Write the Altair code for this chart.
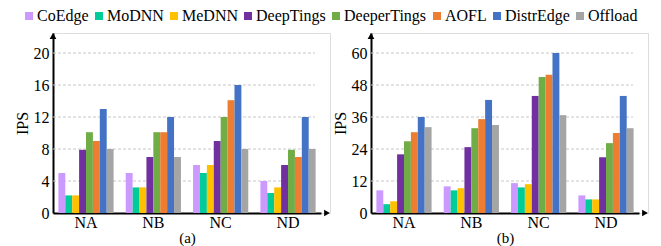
import altair as alt
import pandas as pd

groups = ["NA", "NB", "NC", "ND"]
methods = ["CoEdge", "MoDNN", "MeDNN", "DeepTings", "DeeperTings", "AOFL", "DistrEdge", "Offload"]
colors = ["#CC99FF", "#00CC99", "#FFC000", "#7030A0", "#70AD47", "#ED7D31", "#4472C4", "#A5A5A5"]

# panel (a) values per group, in method order
a_NA = [5.0, 2.2, 2.2, 7.9, 10.1, 9.0, 13.0, 8.0]
a_NB = [5.0, 3.2, 3.2, 7.0, 10.1, 10.1, 12.0, 7.0]
a_NC = [6.0, 5.0, 6.0, 9.0, 12.0, 14.1, 16.0, 8.0]
a_ND = [4.0, 2.5, 3.2, 6.0, 7.9, 7.0, 12.0, 8.0]

# panel (b) values per group, in method order
b_NA = [8.5, 3.3, 4.4, 22.0, 26.9, 30.3, 36.0, 32.2]
b_NB = [10.0, 8.5, 9.3, 24.7, 31.8, 35.2, 42.4, 33.0]
b_NC = [11.2, 9.6, 10.8, 43.9, 51.0, 51.8, 60.0, 36.7]
b_ND = [6.6, 5.1, 5.1, 20.9, 26.2, 30.0, 43.9, 31.8]

a_ticks = [0, 4, 8, 12, 16, 20]
b_ticks = [0, 12, 24, 36, 48, 60]

FONT = "Liberation Serif"
H = 180
W = 277


def make_df(rows):
    recs = []
    for g, vals in zip(groups, rows):
        for m, v in zip(methods, vals):
            recs.append({"group": g, "method": m, "ips": v})
    return pd.DataFrame(recs)


def panel(rows, ticks, ymax, label):
    df = make_df(rows)
    yscale = alt.Scale(domain=[0, ymax], nice=False, zero=True)
    yaxis = alt.Axis(title="IPS", values=ticks, labelPadding=4, titlePadding=3)
    grid_df = pd.DataFrame({"t": [t for t in ticks if t > 0]})
    grid = alt.Chart(grid_df).mark_rule(color="#c8c8c8", strokeDash=[3, 2], strokeWidth=1).encode(
        y=alt.Y("t:Q", scale=yscale, axis=yaxis),
        x=alt.value(0),
        x2=alt.value(262),
    )
    bars = alt.Chart(df).mark_bar(size=6.9).encode(
        x=alt.X("group:N", sort=groups,
                scale=alt.Scale(range=[0, 268], paddingInner=0.18, paddingOuter=0.08),
                axis=alt.Axis(title=label, labelAngle=0, labelPadding=1,
                              titleFontSize=15, titlePadding=0)),
        xOffset=alt.XOffset("method:N", sort=methods,
                            scale=alt.Scale(paddingInner=0, paddingOuter=0)),
        y=alt.Y("ips:Q", scale=yscale, axis=yaxis),
        color=alt.Color("method:N", sort=methods,
                        scale=alt.Scale(domain=methods, range=colors),
                        legend=alt.Legend(title=None, orient="none", direction="horizontal",
                                          legendX=-32, legendY=-25, labelFont=FONT,
                                          labelFontSize=16)),
    )
    up = alt.Chart(pd.DataFrame({"a": [0]})).mark_point(
        shape="triangle-up", filled=True, color="black", size=45, opacity=1
    ).encode(x=alt.value(0), y=alt.value(3))
    right = alt.Chart(pd.DataFrame({"a": [0]})).mark_point(
        shape="triangle-right", filled=True, color="black", size=45, opacity=1
    ).encode(x=alt.value(W - 3), y=alt.value(H))
    return alt.layer(grid, bars, up, right).properties(width=W, height=H)


pa = panel([a_NA, a_NB, a_NC, a_ND], a_ticks, 22.5, "(a)")
pb = panel([b_NA, b_NB, b_NC, b_ND], b_ticks, 67.5, "(b)")

chart = (
    alt.hconcat(pa, pb, spacing=0)
    .properties(padding={"left": 5, "top": 0, "right": 0, "bottom": 0})
    .resolve_scale(y="independent")
    .configure_view(stroke=None)
    .configure(background="white", font=FONT,
               style={"guide-label": {"font": FONT, "fontSize": 16, "fill": "black"},
                      "guide-title": {"font": FONT, "fontSize": 16, "fill": "black"}})
    .configure_axis(
        grid=False, ticks=False, domainColor="black", domainWidth=2,
        labelFont=FONT, labelFontSize=16, labelColor="black",
        labelOverlap=False, labelFlush=False,
        titleFont=FONT, titleFontSize=16, titleFontWeight="normal", titleColor="black",
    )
    .configure_legend(
        symbolType="square", symbolSize=64, symbolStrokeWidth=0, symbolOpacity=1,
        labelFont=FONT, labelFontSize=16, labelColor="black", labelOffset=0,
        columnPadding=2,
    )
)

chart.save("out.html", embed_options={"renderer": "svg", "actions": False})
